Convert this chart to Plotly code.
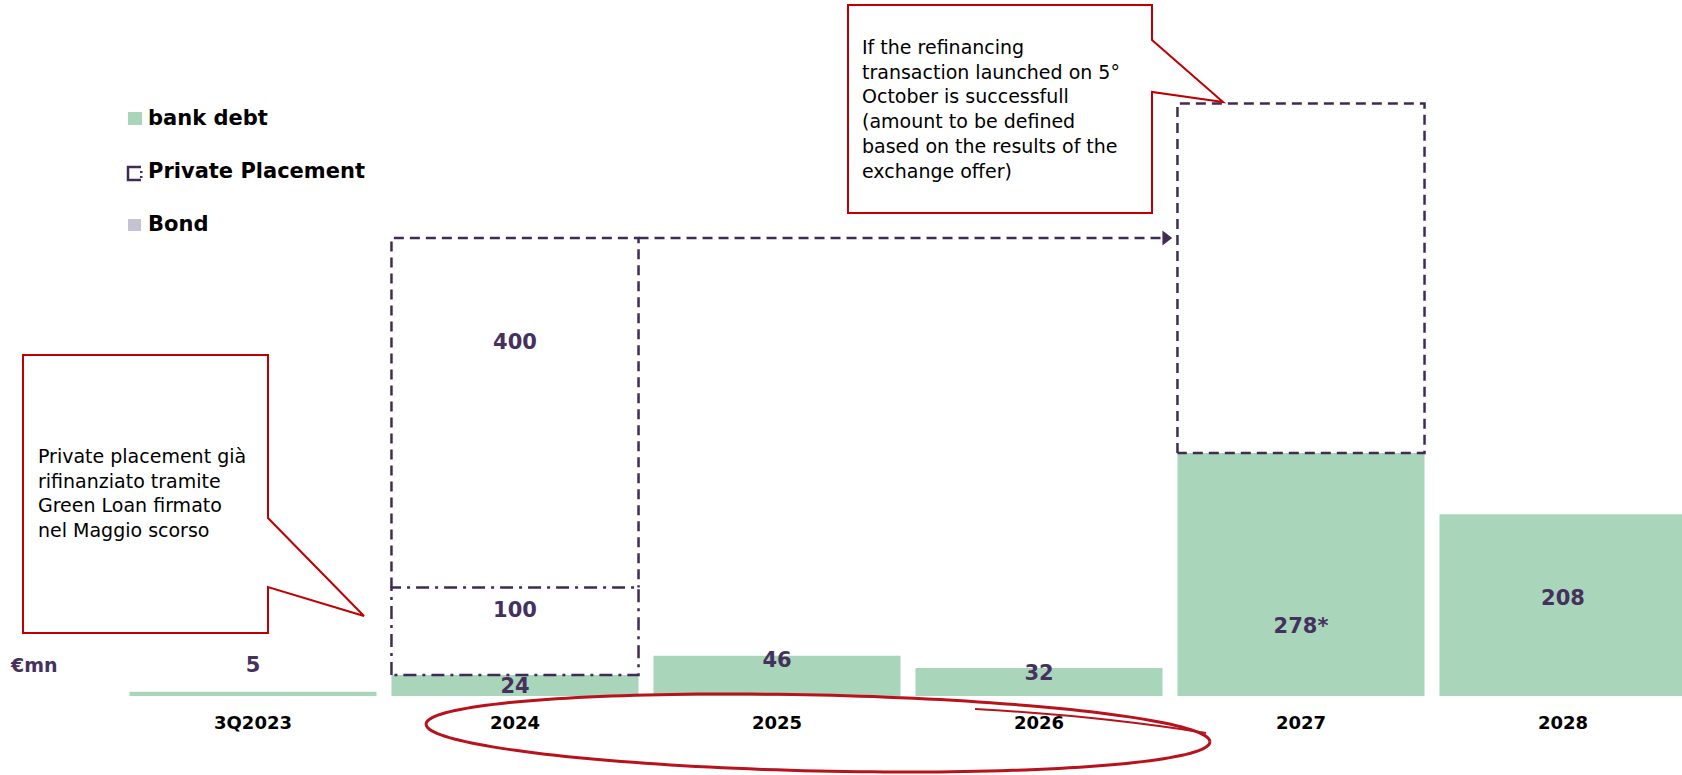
import math
import plotly.graph_objects as go

# ---- data (€mn) ----
categories = ["3Q2023", "2024", "2025", "2026", "2027", "2028"]
bank_debt = [5, 24, 46, 32, 278, 208]
bank_labels = ["5", "24", "46", "32", "278*", "208"]
# Private placement already refinanced via Green Loan (2024)
pp_refinanced = [0, 100, 0, 0, 0, 0]
# Private placement subject to the refinancing transaction (2024 -> 2027)
pp_exchange_2024 = [0, 400, 0, 0, 0, 0]
pp_exchange_2027 = [0, 0, 0, 0, 400, 0]

# label placement (value units) for the number shown on each segment
bank_label_y = [33, 9, 39, 24, 78, 110]
pp_label_offset = {"refinanced": 72, "exchange": 279}

# ---- style ----
GREEN = "#A9D5BA"
PURPLE = "#3F2B56"
LABEL_PURPLE = "#46315E"
RED = "#C00000"
ELLIPSE_RED = "#B8121C"
BOND_GREY = "#C5C2D2"
BAR_W = 0.943
W, H = 1682, 775
PLOT_BOTTOM = 696  # pixel row of the value axis baseline
PX_PER_UNIT = 0.874
FIRST_CENTER_PX, PITCH_PX = 253, 262

x_idx = list(range(len(categories)))
x_range = [-FIRST_CENTER_PX / PITCH_PX, (W - FIRST_CENTER_PX) / PITCH_PX]
y_range = [0, PLOT_BOTTOM / PX_PER_UNIT]


def px(x):
    return x / W


def py(y):
    return (PLOT_BOTTOM - y) / PLOT_BOTTOM


fig = go.Figure()

# bank debt bars
fig.add_trace(go.Bar(
    x=x_idx, y=bank_debt, width=BAR_W, marker=dict(color=GREEN, line=dict(width=0)),
    showlegend=False, hoverinfo="skip",
))


def box_outline(i, base, value, dash, open_bottom=False):
    l, r = i - BAR_W / 2, i + BAR_W / 2
    if open_bottom:
        xs, ys = [l, l, r, r], [base, base + value, base + value, base]
    else:
        xs, ys = [l, l, r, r, l], [base, base + value, base + value, base, base]
    fig.add_trace(go.Scatter(
        x=xs, y=ys, mode="lines", line=dict(color=PURPLE, width=2.5, dash=dash),
        showlegend=False, hoverinfo="skip",
    ))


DASH = "10px,6px"
DASHDOT = "13px,6px,3px,6px"

label_x, label_y, label_t = [], [], []
for i in x_idx:
    base = bank_debt[i]
    if pp_refinanced[i]:
        box_outline(i, base, pp_refinanced[i], DASHDOT)
        label_x.append(i)
        label_y.append(base + pp_label_offset["refinanced"])
        label_t.append(str(pp_refinanced[i]))
        base += pp_refinanced[i]
    if pp_exchange_2024[i]:
        box_outline(i, base, pp_exchange_2024[i], DASH, open_bottom=True)
        label_x.append(i)
        label_y.append(base + pp_label_offset["exchange"])
        label_t.append(str(pp_exchange_2024[i]))
    if pp_exchange_2027[i]:
        box_outline(i, base, pp_exchange_2027[i], DASH)

# arrow moving the 400 from 2024 to 2027
src = pp_exchange_2024.index(max(pp_exchange_2024))
dst = pp_exchange_2027.index(max(pp_exchange_2027))
arrow_y = bank_debt[src] + pp_refinanced[src] + pp_exchange_2024[src]
x_start = src + BAR_W / 2
x_end = dst - BAR_W / 2 - 0.055
fig.add_trace(go.Scatter(
    x=[x_start, x_end], y=[arrow_y, arrow_y], mode="lines",
    line=dict(color=PURPLE, width=2.5, dash=DASH), showlegend=False, hoverinfo="skip",
))
fig.add_trace(go.Scatter(
    x=[x_end + 0.01], y=[arrow_y], mode="markers",
    marker=dict(symbol="triangle-right", size=13, color=PURPLE),
    showlegend=False, hoverinfo="skip",
))

# value labels
fig.add_trace(go.Scatter(
    x=x_idx + label_x, y=bank_label_y + label_y, text=bank_labels + label_t,
    mode="text", textposition="middle center",
    textfont=dict(family="DejaVu Sans", size=21, color=LABEL_PURPLE, weight="bold"),
    showlegend=False, hoverinfo="skip",
))

shapes = []
annotations = []


def poly(points):
    d = "M " + " L ".join(f"{px(x):.5f},{py(y):.5f}" for x, y in points) + " Z"
    return d


# callout boxes
callout_top = [(848, 5), (1152, 5), (1152, 40), (1223, 102), (1152, 92), (1152, 213), (848, 213)]
callout_left = [(23, 355), (268, 355), (268, 518), (364, 616), (268, 587), (268, 633), (23, 633)]
for pts in (callout_top, callout_left):
    shapes.append(dict(type="path", xref="paper", yref="paper", path=poly(pts),
                       line=dict(color=RED, width=2), fillcolor="white", layer="above"))

text_font = dict(family="DejaVu Sans", size=19, color="black")
annotations.append(dict(
    xref="paper", yref="paper", x=px(860), y=py(34), xanchor="left", yanchor="top",
    align="left", showarrow=False, font=text_font,
    text="If the refinancing<br>transaction launched on 5°<br>October is successfull<br>"
         "(amount to be defined<br>based on the results of the<br>exchange offer)",
))
annotations.append(dict(
    xref="paper", yref="paper", x=px(36), y=py(443), xanchor="left", yanchor="top",
    align="left", showarrow=False, font=text_font,
    text="Private placement già<br>rifinanziato tramite<br>Green Loan firmato<br>nel Maggio scorso",
))

# unit label
annotations.append(dict(
    xref="paper", yref="paper", x=px(8), y=py(665), xanchor="left", yanchor="middle",
    showarrow=False, text="€mn",
    font=dict(family="DejaVu Sans", size=19, color=LABEL_PURPLE, weight="bold"),
))

# legend
legend_font = dict(family="DejaVu Sans", size=21, color="black", weight="bold")
legend_items = [("bank debt", 118), ("Private Placement", 171), ("Bond", 224)]
for name, yc in legend_items:
    annotations.append(dict(
        xref="paper", yref="paper", x=px(146), y=py(yc), xanchor="left", yanchor="middle",
        showarrow=False, text=name, font=legend_font,
    ))
shapes.append(dict(type="rect", xref="paper", yref="paper", x0=px(128), x1=px(142),
                   y0=py(125), y1=py(112), fillcolor=GREEN, line=dict(width=0)))
shapes.append(dict(type="rect", xref="paper", yref="paper", x0=px(128), x1=px(141),
                   y0=py(231), y1=py(219), fillcolor=BOND_GREY, line=dict(width=0)))
shapes.append(dict(type="path", xref="paper", yref="paper",
                   path=f"M {px(141):.5f},{py(167):.5f} L {px(128):.5f},{py(167):.5f} "
                        f"L {px(128):.5f},{py(180):.5f} L {px(141):.5f},{py(180):.5f}",
                   line=dict(color=PURPLE, width=2.5)))
for yy in (171, 176):
    shapes.append(dict(type="rect", xref="paper", yref="paper", x0=px(140), x1=px(142.5),
                       y0=py(yy + 2), y1=py(yy), fillcolor=PURPLE, line=dict(width=0)))

# hand-drawn ellipse around 2024-2026
cx, cy, a, b, rot = 818, 733, 392, 38, math.radians(1.3)
pts = []
for k in range(0, 181):
    t = 2 * math.pi * k / 180
    x = cx + a * math.cos(t) * math.cos(rot) - b * math.sin(t) * math.sin(rot)
    y = cy + a * math.cos(t) * math.sin(rot) + b * math.sin(t) * math.cos(rot)
    pts.append((x, y))
ell = "M " + " L ".join(f"{px(x):.5f},{py(y):.5f}" for x, y in pts)
shapes.append(dict(type="path", xref="paper", yref="paper", path=ell,
                   line=dict(color=ELLIPSE_RED, width=3), layer="above"))
shapes.append(dict(type="path", xref="paper", yref="paper",
                   path=f"M {px(975):.5f},{py(709):.5f} Q {px(1100):.5f},{py(716):.5f} {px(1206):.5f},{py(733):.5f}",
                   line=dict(color=ELLIPSE_RED, width=2), layer="above"))

fig.update_layout(
    width=W, height=H,
    margin=dict(l=0, r=0, t=0, b=H - PLOT_BOTTOM),
    paper_bgcolor="white", plot_bgcolor="white",
    barmode="overlay", hovermode=False,
    shapes=shapes, annotations=annotations,
    xaxis=dict(range=x_range, tickvals=x_idx, ticktext=categories, showgrid=False,
               zeroline=False, showline=False, ticks="", ticklabelstandoff=14,
               tickfont=dict(family="DejaVu Sans", size=18, color="black", weight="bold")),
    yaxis=dict(range=y_range, visible=False, showgrid=False, zeroline=False),
)

fig.write_html("out.html", config={"displayModeBar": False})
